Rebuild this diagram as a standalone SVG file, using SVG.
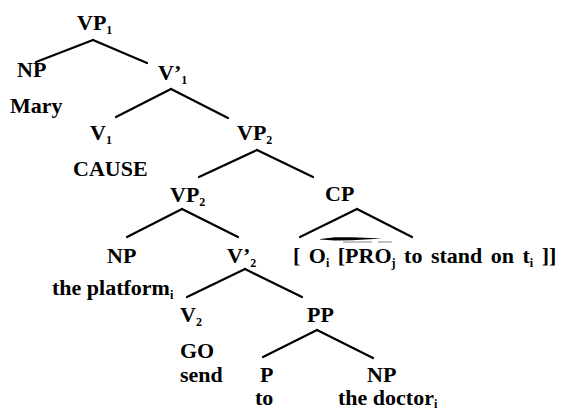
<svg xmlns="http://www.w3.org/2000/svg" width="561" height="412" viewBox="0 0 561 412">
<style>
text{font-family:"Liberation Serif","Times New Roman",serif;font-weight:bold;font-size:22px;fill:#000}
.s{font-size:12px}
.e{stroke:#000;stroke-width:2.2;fill:none;stroke-linecap:round}
</style>
<rect width="561" height="412" fill="#fff"/>
<g id="connectors" class="e">
<line x1="93" y1="40" x2="36" y2="62"/>
<line x1="93" y1="40" x2="147" y2="63"/>
<line x1="171" y1="89" x2="116" y2="117"/>
<line x1="171" y1="89" x2="228" y2="118"/>
<line x1="257" y1="150" x2="199" y2="177"/>
<line x1="257" y1="150" x2="313" y2="177"/>
<line x1="182" y1="209" x2="127" y2="237"/>
<line x1="182" y1="209" x2="238" y2="237"/>
<line x1="357" y1="209" x2="300" y2="237"/>
<line x1="357" y1="209" x2="412" y2="237"/>
<line x1="245" y1="269" x2="187" y2="297"/>
<line x1="245" y1="269" x2="302" y2="297"/>
<line x1="317" y1="330" x2="263" y2="357"/>
<line x1="317" y1="330" x2="373" y2="358"/>
</g>
<g id="vp1"><text x="77" y="30">VP<tspan class="s" dy="4">1</tspan></text></g>
<g id="np1"><text x="17" y="77">NP</text><text x="10" y="113">Mary</text></g>
<g id="vbar1"><text x="158" y="80">V’<tspan class="s" dy="4">1</tspan></text></g>
<g id="v1"><text x="90" y="140">V<tspan class="s" dy="4">1</tspan></text><text x="73" y="176">CAUSE</text></g>
<g id="vp2a"><text x="237" y="140">VP<tspan class="s" dy="4">2</tspan></text></g>
<g id="vp2b"><text x="170" y="202">VP<tspan class="s" dy="4">2</tspan></text></g>
<g id="cp"><text x="325" y="201">CP</text>
<text x="293" y="263" word-spacing="3">[ O<tspan class="s" dy="4">i</tspan><tspan dy="-4"> [PRO</tspan><tspan class="s" dy="4">j</tspan><tspan dy="-4"> to stand on t</tspan><tspan class="s" dy="4">i</tspan><tspan dy="-4"> ]]</tspan></text>
<polygon points="320,239 335,237.2 352,237.2 382,238.6 352,240.2 335,240.4 320,239.6" fill="#000"/>
<line x1="343" y1="242" x2="372" y2="242" stroke="#999" stroke-width="1.2"/>
<line x1="378" y1="242" x2="392" y2="242" stroke="#999" stroke-width="1.2"/>
</g>
<g id="np2"><text x="107" y="263">NP</text><text x="52" y="295">the platform<tspan class="s" dy="4">i</tspan></text></g>
<g id="vbar2"><text x="227" y="263">V’<tspan class="s" dy="4">2</tspan></text></g>
<g id="v2"><text x="180" y="322">V<tspan class="s" dy="4">2</tspan></text><text x="180" y="358">GO</text><text x="180" y="382">send</text></g>
<g id="pp"><text x="307" y="322">PP</text></g>
<g id="p"><text x="260" y="382">P</text><text x="255" y="405">to</text></g>
<g id="np3"><text x="367" y="382">NP</text><text x="338" y="405">the doctor<tspan class="s" dy="3">i</tspan></text></g>
</svg>
